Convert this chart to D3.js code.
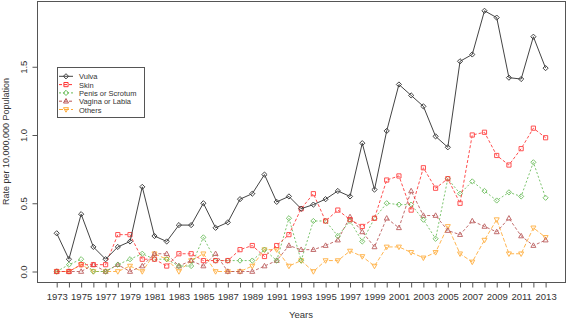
<!DOCTYPE html>
<html>
<head>
<meta charset="utf-8">
<script src="https://cdn.jsdelivr.net/npm/d3@7"></script>
<style>
  body { margin: 0; background: #fff; }
  svg { font-family: "Liberation Sans", Arial, sans-serif; }
</style>
</head>
<body>
<div id="chart"></div>
<script>
var years = d3.range(1973, 2014);
var yTicks = [0.0, 0.5, 1.0, 1.5];

var vulva = [0.28, 0.09, 0.42, 0.18, 0.09, 0.18, 0.22, 0.62, 0.26, 0.22,
             0.34, 0.34, 0.50, 0.32, 0.36, 0.53, 0.57, 0.71, 0.51, 0.55,
             0.46, 0.49, 0.53, 0.59, 0.55, 0.94, 0.60, 1.03, 1.37, 1.29,
             1.21, 0.99, 0.91, 1.54, 1.59, 1.91, 1.86, 1.42, 1.41, 1.72, 1.49];
var skin = [0.0, 0.0, 0.05, 0.05, 0.05, 0.27, 0.27, 0.09, 0.09, 0.04,
            0.13, 0.13, 0.08, 0.08, 0.08, 0.16, 0.19, 0.11, 0.19, 0.27,
            0.46, 0.57, 0.37, 0.45, 0.38, 0.33, 0.39, 0.67, 0.70, 0.45,
            0.76, 0.61, 0.68, 0.50, 1.00, 1.02, 0.85, 0.78, 0.90, 1.05, 0.98];
var penis = [0.0, 0.05, 0.09, 0.0, 0.0, 0.05, 0.09, 0.13, 0.09, 0.09,
             0.04, 0.04, 0.25, 0.08, 0.08, 0.08, 0.08, 0.16, 0.08, 0.39,
             0.08, 0.37, 0.37, 0.26, 0.37, 0.22, 0.39, 0.50, 0.49, 0.49,
             0.38, 0.24, 0.68, 0.57, 0.66, 0.59, 0.52, 0.58, 0.55, 0.80, 0.54];
var vagina = [0.0, 0.0, 0.0, 0.05, 0.0, 0.05, 0.0, 0.04, 0.13, 0.13,
              0.04, 0.08, 0.04, 0.13, 0.0, 0.0, 0.0, 0.04, 0.08, 0.19,
              0.16, 0.16, 0.19, 0.23, 0.40, 0.29, 0.18, 0.39, 0.32, 0.59,
              0.41, 0.41, 0.30, 0.27, 0.37, 0.33, 0.29, 0.39, 0.26, 0.19, 0.23];
var others = [0.0, 0.0, 0.05, 0.0, 0.0, 0.0, 0.04, 0.0, 0.13, 0.09,
              0.0, 0.08, 0.13, 0.0, 0.0, 0.0, 0.04, 0.16, 0.16, 0.04,
              0.08, 0.0, 0.08, 0.08, 0.15, 0.11, 0.04, 0.18, 0.18, 0.14,
              0.10, 0.14, 0.33, 0.13, 0.07, 0.23, 0.38, 0.13, 0.13, 0.32, 0.25];

var seriesNames = ['Vulva', 'Skin', 'Penis or Scrotum', 'Vagina or Labia', 'Others'];
var seriesValues = [vulva, skin, penis, vagina, others];
var colors = ['#444444', '#ff3333', '#66bb55', '#b85555', '#ffaa33'];
var dashes = [null, '3,2', '2,2', '3,2', '4,2'];
var shapes = ['diamond', 'square', 'diamond', 'up', 'down'];

var width = 567, height = 320;
var box = {left: 37, right: 565, top: 1, bottom: 282};

var x = d3.scaleLinear().domain([1973, 2013]).range([56.7, 545.6]);
var y = d3.scaleLinear().domain([0, 1.5]).range([271.5, 66.75]);

var svg = d3.select('#chart').append('svg')
    .attr('width', width)
    .attr('height', height);

svg.append('rect')
    .attr('x', box.left + 0.5).attr('y', box.top + 0.5)
    .attr('width', box.right - box.left).attr('height', box.bottom - box.top)
    .attr('fill', 'none').attr('stroke', '#555').attr('stroke-width', 1);

// axes
var xAxis = svg.append('g')
    .attr('transform', 'translate(0,' + (box.bottom + 0.5) + ')')
    .call(d3.axisBottom(x).tickValues(years).tickSize(5).tickPadding(6)
      .tickFormat(function(d) { return (d - 1973) % 2 === 0 ? d : ''; }));
xAxis.select('.domain').attr('stroke', '#555').attr('d', 'M' + x(1973) + ',0H' + x(2013));
xAxis.selectAll('line').attr('stroke', '#555');
xAxis.selectAll('text').attr('font-size', 9.5).attr('fill', '#333').attr('font-family', null);

var yAxis = svg.append('g')
    .attr('transform', 'translate(' + (box.left + 0.5) + ',0)')
    .call(d3.axisLeft(y).tickValues(yTicks).tickSize(5).tickPadding(4).tickFormat(d3.format('.1f')));
yAxis.select('.domain').remove();
yAxis.selectAll('line').attr('stroke', '#555');
yAxis.selectAll('text')
    .attr('font-size', 9.5).attr('fill', '#333').attr('font-family', null)
    .attr('text-anchor', 'middle')
    .attr('transform', 'rotate(-90)')
    .attr('x', 0)
    .attr('y', -11)
    .attr('dy', 0);

svg.append('text')
    .attr('x', (box.left + box.right) / 2).attr('y', 318)
    .attr('text-anchor', 'middle').attr('font-size', 9.5).attr('fill', '#333')
    .text('Years');

svg.append('text')
    .attr('transform', 'translate(9,' + ((box.top + box.bottom) / 2) + ') rotate(-90)')
    .attr('text-anchor', 'middle').attr('font-size', 9).attr('fill', '#333')
    .text('Rate per 10,000,000 Population');

function marker(g, shape, color, cx, cy) {
  var s = 2.1;
  var p;
  if (shape === 'diamond') {
    p = 'M' + cx + ',' + (cy - s - 0.5) + 'L' + (cx + s + 0.5) + ',' + cy + 'L' + cx + ',' + (cy + s + 0.5) + 'L' + (cx - s - 0.5) + ',' + cy + 'Z';
  } else if (shape === 'square') {
    p = 'M' + (cx - s) + ',' + (cy - s) + 'h' + (2 * s) + 'v' + (2 * s) + 'h' + (-2 * s) + 'Z';
  } else if (shape === 'up') {
    p = 'M' + cx + ',' + (cy - s - 0.6) + 'L' + (cx + s + 0.4) + ',' + (cy + s - 0.3) + 'L' + (cx - s - 0.4) + ',' + (cy + s - 0.3) + 'Z';
  } else {
    p = 'M' + cx + ',' + (cy + s + 0.6) + 'L' + (cx + s + 0.4) + ',' + (cy - s + 0.3) + 'L' + (cx - s - 0.4) + ',' + (cy - s + 0.3) + 'Z';
  }
  g.append('path').attr('d', p).attr('fill', 'none').attr('stroke', color).attr('stroke-width', 1);
}

var line = d3.line()
    .x(function(d, i) { return x(years[i]); })
    .y(function(d) { return y(d); });

// draw in reverse so Vulva ends on top
for (var k = seriesValues.length - 1; k >= 0; k--) {
  var g = svg.append('g').attr('opacity', k === 0 ? 1 : 0.85);
  g.append('path')
    .datum(seriesValues[k])
    .attr('d', line)
    .attr('fill', 'none')
    .attr('stroke', colors[k])
    .attr('stroke-width', 1)
    .attr('stroke-dasharray', dashes[k]);
  for (var i = 0; i < years.length; i++) {
    marker(g, shapes[k], colors[k], x(years[i]), y(seriesValues[k][i]));
  }
}

// legend
var lg = svg.append('g');
lg.append('rect')
    .attr('x', 57.5).attr('y', 67.5).attr('width', 87).attr('height', 50)
    .attr('fill', '#fff').attr('stroke', '#555');
seriesNames.forEach(function(name, k) {
  var ly = 76.3 + k * 8.3;
  lg.append('line')
    .attr('x1', 59).attr('x2', 73).attr('y1', ly).attr('y2', ly)
    .attr('stroke', colors[k]).attr('stroke-dasharray', dashes[k]);
  marker(lg, shapes[k], colors[k], 66, ly);
  lg.append('text')
    .attr('x', 79).attr('y', ly + 3)
    .attr('font-size', 7.5).attr('fill', '#333')
    .text(name);
});
</script>
</body>
</html>
